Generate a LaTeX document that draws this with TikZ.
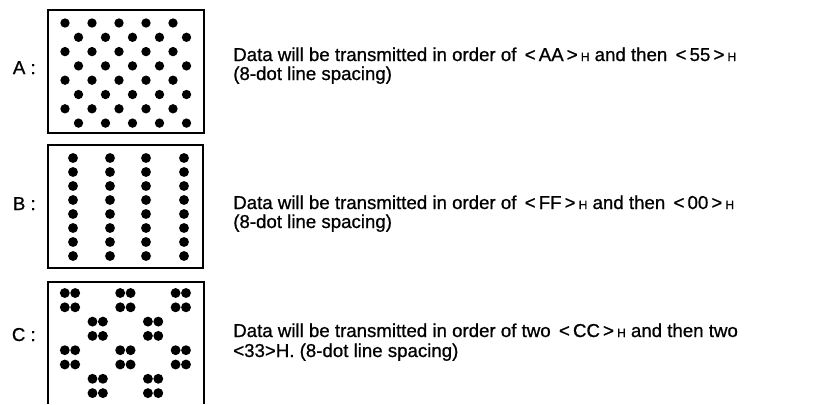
\documentclass[tikz,border=0pt]{standalone}
\usepackage{fontspec}
\setmainfont[FakeBold=0.8]{Liberation Sans}
\usetikzlibrary{positioning}

\newcommand{\hexcode}[1]{\,<\,#1\,>\,{\fontsize{9}{9}\selectfont H}}

\begin{document}
\begin{tikzpicture}[x=0.75pt,y=-0.75pt,
    frame/.style={line width=1pt},
    lbl/.style={font=\fontsize{14}{15}\selectfont,anchor=base east,inner sep=0pt},
    txt/.style={font=\fontsize{14}{15}\selectfont,anchor=base west,inner sep=0pt}]
  \useasboundingbox (0,0) rectangle (813,404);

  % A : alternating rows
  \node[lbl] (labA) at (36,74) {A :};
  \draw[frame] (48,10) rectangle (204,133);
  \foreach \c in {0,...,9}
    \foreach \r in {0,...,3}{
      \pgfmathsetmacro\yy{23+14.3*(2*\r+mod(\c,2))}
      \fill (65+13.5*\c,\yy) circle[radius=3.5pt];
    }
  \node[txt] (txtA1) at (233,61) {Data will be transmitted in order of \hexcode{AA} and then \hexcode{55}};
  \node[txt] (txtA2) at (233,80) {(8-dot line spacing)};

  % B : full columns
  \node[lbl] (labB) at (36,210) {B :};
  \draw[frame] (48,145) rectangle (203,268);
  \foreach \x in {73,110,146,184}
    \foreach \r in {0,...,7}
      \fill (\x,158+14*\r) circle[radius=3.7pt];
  \node[txt] (txtB1) at (233,209) {Data will be transmitted in order of \hexcode{FF} and then \hexcode{00}};
  \node[txt] (txtB2) at (233,228) {(8-dot line spacing)};

  % C : 2x2 blocks, bottom cut off
  \node[lbl] (labC) at (36,341) {C :};
  \draw[frame] (48,404) -- (48,282) -- (204,282) -- (204,404);
  \foreach \p in {0,...,4}
    \foreach \q in {0,...,3}{
      \pgfmathtruncatemacro\k{mod(\p+\q,2)}
      \ifnum\k=0
        \foreach \i in {-1,1}
          \foreach \j in {0,1}
            \fill (70+27.7*\p+5.2*\i,293+28.6*\q+14.3*\j) circle[radius=3.7pt];
      \fi
    }
  \node[txt] (txtC1) at (233,337) {Data will be transmitted in order of two \hexcode{CC} and then two};
  \node[txt] (txtC2) at (233,357) {<33>H. (8-dot line spacing)};
\end{tikzpicture}
\end{document}
